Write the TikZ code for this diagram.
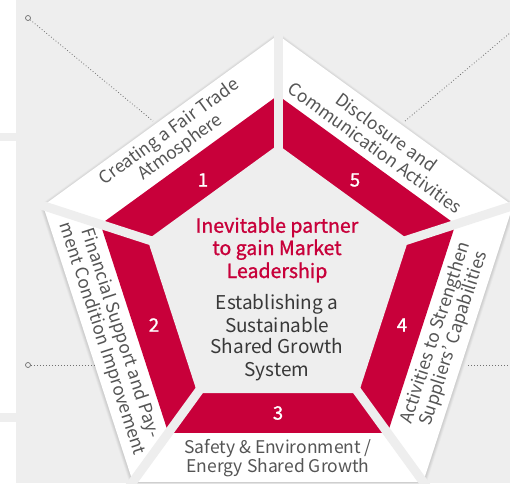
\documentclass[tikz,border=0pt]{standalone}
\usepackage{fontspec}
\setmainfont{Noto Sans CJK KR}
\newfontfamily\medfont[FakeBold=1.2]{Noto Sans CJK KR}
\definecolor{bg}{HTML}{EEEEEE}
\definecolor{crim}{HTML}{C8003A}
\definecolor{lbl}{HTML}{555555}
\definecolor{dark}{HTML}{383838}
\definecolor{lead}{HTML}{707070}
\newcommand\pentpath[1]{(90:#1) -- (162:#1) -- (234:#1) -- (306:#1) -- (18:#1) -- cycle}
\begin{document}
\begin{tikzpicture}[x=1pt,y=1pt,
  gapline/.style={draw=bg, line width=9pt},
  lbltext/.style={text=lbl, align=center, font=\fontsize{17.5}{19}\selectfont, inner sep=0pt},
  numtext/.style={text=white, font=\medfont\fontsize{18.5}{20}\selectfont, inner sep=0pt},
  redline/.style={text=crim, font=\medfont\fontsize{19.5}{22}\selectfont, anchor=base, inner sep=0pt},
  greyline/.style={text=dark, font=\fontsize{19}{22}\selectfont, anchor=base, inner sep=0pt},
  leader/.style={draw=lead, line width=0.8pt, dash pattern=on 0.8pt off 2.2pt},
  ring/.style={circle, draw=lead, line width=0.7pt, minimum size=5pt, inner sep=0pt}
]
\useasboundingbox (0,0) rectangle (510,483);
\fill[white] (0,0) rectangle (16,483);
\fill[bg] (16,0) rectangle (510,483);
\fill[bg] (0,342) rectangle (16,350);
\fill[bg] (0,61) rectangle (16,70);
\coordinate (C) at (278,201);
\begin{scope}[shift={(C)}]
  \foreach \r/\o in {251/0.025,250/0.03,249/0.035,248/0.04}
    \fill[black,opacity=\o] ([yshift=-1pt]90:\r) -- ([yshift=-1pt]162:\r) -- ([yshift=-1pt]234:\r) -- ([yshift=-1pt]306:\r) -- ([yshift=-1pt]18:\r) -- cycle;
  \fill[white] \pentpath{247};
  \fill[crim] \pentpath{186.6};
  \fill[bg] \pentpath{137.2};
  \foreach \a in {90,162,234,306,18}
    \draw[gapline] (0,0) -- (\a:262);
\end{scope}
% segment labels
\node[lbltext, rotate=36] (l1) at (175,343) {Creating a Fair Trade\\Atmosphere};
\node[lbltext, rotate=-36] (l5) at (381,343) {Disclosure and\\Communication Activities};
\node[lbltext, rotate=-72] (l2) at (111,147) {Financial Support and Pay-\\ment Condition Improvement};
\node[lbltext, rotate=72] (l4) at (445,147) {Activities to Strengthen\\Suppliers’ Capabilities};
\node[lbltext] (l3) at (278,25) {Safety \& Environment /\\Energy Shared Growth};
% numbers
\node[numtext] (n1) at (203,303) {1};
\node[numtext] (n5) at (355,303) {5};
\node[numtext] (n2) at (154,158) {2};
\node[numtext] (n4) at (402,158) {4};
\node[numtext] (n3) at (278,70) {3};
% centre text
\node[redline] (r1) at (277,250.3) {Inevitable partner};
\node[redline] (r2) at (277,228) {to gain Market};
\node[redline] (r3) at (277,205) {Leadership};
\node[greyline] (g1) at (277,174) {Establishing a};
\node[greyline] (g2) at (277,151) {Sustainable};
\node[greyline] (g3) at (277,129.5) {Shared Growth};
\node[greyline] (g4) at (277,107) {System};
% leaders
\node[ring] (c1) at (28,465) {};
\coordinate (e1) at (153,362);
\draw[leader] (c1) -- (e1);
\coordinate (e5a) at (405,362);
\coordinate (e5b) at (510,450);
\draw[leader] (e5a) -- (e5b);
\node[ring] (c2) at (28,118) {};
\coordinate (e2) at (95,118);
\draw[leader] (c2) -- (e2);
\coordinate (e4a) at (468,118);
\coordinate (e4b) at (510,118);
\draw[leader] (e4a) -- (e4b);
\end{tikzpicture}
\end{document}
